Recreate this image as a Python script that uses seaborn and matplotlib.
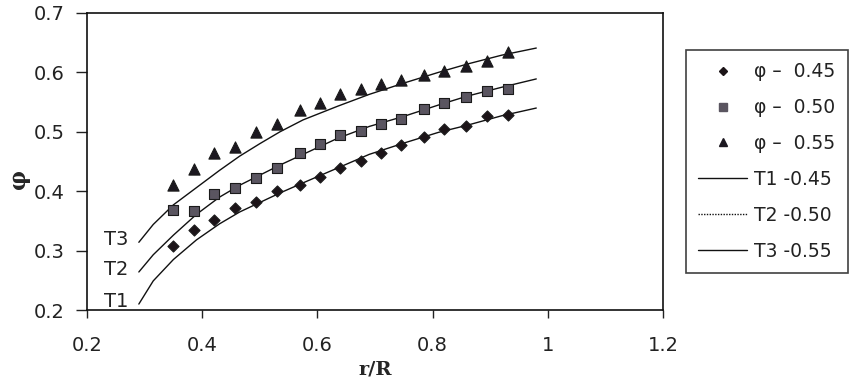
import numpy as np
import pandas as pd
import matplotlib
matplotlib.use("Agg")
import matplotlib.pyplot as plt
import seaborn as sns
from matplotlib.lines import Line2D

# measured points (r/R) shared by the three data series
r_pts = [0.35, 0.385, 0.42, 0.457, 0.494, 0.53, 0.57, 0.605, 0.64, 0.676,
         0.71, 0.746, 0.785, 0.82, 0.858, 0.895, 0.931]
phi_045 = [0.308, 0.335, 0.352, 0.372, 0.382, 0.400, 0.410, 0.424, 0.439, 0.451,
           0.464, 0.478, 0.491, 0.505, 0.510, 0.527, 0.528]
phi_050 = [0.368, 0.367, 0.395, 0.405, 0.422, 0.439, 0.464, 0.479, 0.495, 0.501,
           0.513, 0.522, 0.538, 0.548, 0.559, 0.569, 0.572]
phi_055 = [0.410, 0.437, 0.464, 0.474, 0.500, 0.513, 0.537, 0.548, 0.564, 0.572,
           0.580, 0.587, 0.596, 0.602, 0.611, 0.619, 0.634]

# theory curves
r_line = [0.29, 0.315, 0.35, 0.39, 0.43, 0.465, 0.5, 0.535, 0.575, 0.635,
          0.69, 0.75, 0.81, 0.86, 0.92, 0.98]
t1 = [0.210, 0.249, 0.285, 0.318, 0.345, 0.365, 0.381, 0.397, 0.414, 0.439,
      0.462, 0.481, 0.499, 0.511, 0.527, 0.540]
t2 = [0.264, 0.293, 0.326, 0.361, 0.390, 0.410, 0.427, 0.444, 0.462, 0.489,
      0.509, 0.526, 0.545, 0.560, 0.575, 0.589]
t3 = [0.314, 0.344, 0.377, 0.406, 0.435, 0.459, 0.480, 0.500, 0.520, 0.543,
      0.563, 0.582, 0.600, 0.614, 0.629, 0.641]

pts_labels = ["φ –  0.45", "φ –  0.50", "φ –  0.55"]
line_labels = ["T1 -0.45", "T2 -0.50", "T3 -0.55"]
curve_tags = ["T1", "T2", "T3"]

pts = pd.DataFrame({
    "r": r_pts * 3,
    "phi": phi_045 + phi_050 + phi_055,
    "set": [pts_labels[0]] * len(r_pts) + [pts_labels[1]] * len(r_pts) + [pts_labels[2]] * len(r_pts),
})
lines = pd.DataFrame({
    "r": r_line * 3,
    "phi": t1 + t2 + t3,
    "set": [line_labels[0]] * len(r_line) + [line_labels[1]] * len(r_line) + [line_labels[2]] * len(r_line),
})

sns.set_style("white")
plt.rcParams["font.family"] = ["DejaVu Sans"]

fig = plt.figure(figsize=(8.59, 3.85), dpi=100)
ax = fig.add_axes([87 / 859, 75 / 385, 576 / 859, 297 / 385])

sns.lineplot(data=lines, x="r", y="phi", hue="set", palette=["#111111"] * 3,
             linewidth=1.0, legend=False, ax=ax, sort=False)

marker_map = {pts_labels[0]: "D", pts_labels[1]: "s", pts_labels[2]: "^"}
size_map = {pts_labels[0]: 32, pts_labels[1]: 55, pts_labels[2]: 65}
color_map = {pts_labels[0]: "#1c1418", pts_labels[1]: "#5a5560", pts_labels[2]: "#1c1820"}
for lab in pts_labels:
    sub = pts[pts["set"] == lab]
    sns.scatterplot(data=sub, x="r", y="phi", marker=marker_map[lab], s=size_map[lab],
                    color=color_map[lab], edgecolor="#1a1a1a", linewidth=0.8,
                    legend=False, ax=ax, zorder=3)

# curve tags at the start of each theory curve
for tag, ys in zip(curve_tags, [t1, t2, t3]):
    ax.text(0.272, ys[0] + 0.004, tag, ha="right", va="center", fontsize=14, color="#222222")

ax.set_xlim(0.2, 1.2)
ax.set_ylim(0.2, 0.7)
ax.set_xticks([0.2, 0.4, 0.6, 0.8, 1.0, 1.2])
ax.set_xticklabels(["0.2", "0.4", "0.6", "0.8", "1", "1.2"])
ax.set_yticks([0.2, 0.3, 0.4, 0.5, 0.6, 0.7])
ax.tick_params(axis="x", direction="out", length=6, width=1, pad=13, labelsize=14,
               colors="#222222", bottom=True)
ax.tick_params(axis="y", direction="out", length=8, width=1, pad=8, labelsize=14,
               colors="#222222", left=True)
for sp in ax.spines.values():
    sp.set_visible(True)
    sp.set_color("#111111")
    sp.set_linewidth(1.2)

ax.set_xlabel("r/R", fontsize=14, fontweight="bold", family="DejaVu Serif")
ax.xaxis.set_label_coords(0.5, -0.17)
ax.set_ylabel("φ", fontsize=16, fontweight="bold", family="DejaVu Serif")
ax.yaxis.set_label_coords(-0.099, 0.44)

handles = [
    Line2D([], [], linestyle="none", marker="D", markersize=4.5, color=color_map[pts_labels[0]]),
    Line2D([], [], linestyle="none", marker="s", markersize=5.5, color=color_map[pts_labels[1]]),
    Line2D([], [], linestyle="none", marker="^", markersize=6, color=color_map[pts_labels[2]]),
    Line2D([], [], color="#111111", linewidth=1),
    Line2D([], [], color="#111111", linewidth=1, linestyle=(0, (1, 1))),
    Line2D([], [], color="#111111", linewidth=1),
]
leg = fig.legend(handles, pts_labels + line_labels, loc="upper left",
                 bbox_to_anchor=(686 / 859, 1 - 50 / 385), fontsize=13.5,
                 frameon=True, fancybox=False, handlelength=2.6, handletextpad=0.4,
                 labelspacing=0.9, borderpad=0.65, borderaxespad=0)
leg.get_frame().set_edgecolor("#111111")
leg.get_frame().set_linewidth(1.2)
for t in leg.get_texts():
    t.set_color("#222222")

fig.savefig("out.png", dpi=100)
